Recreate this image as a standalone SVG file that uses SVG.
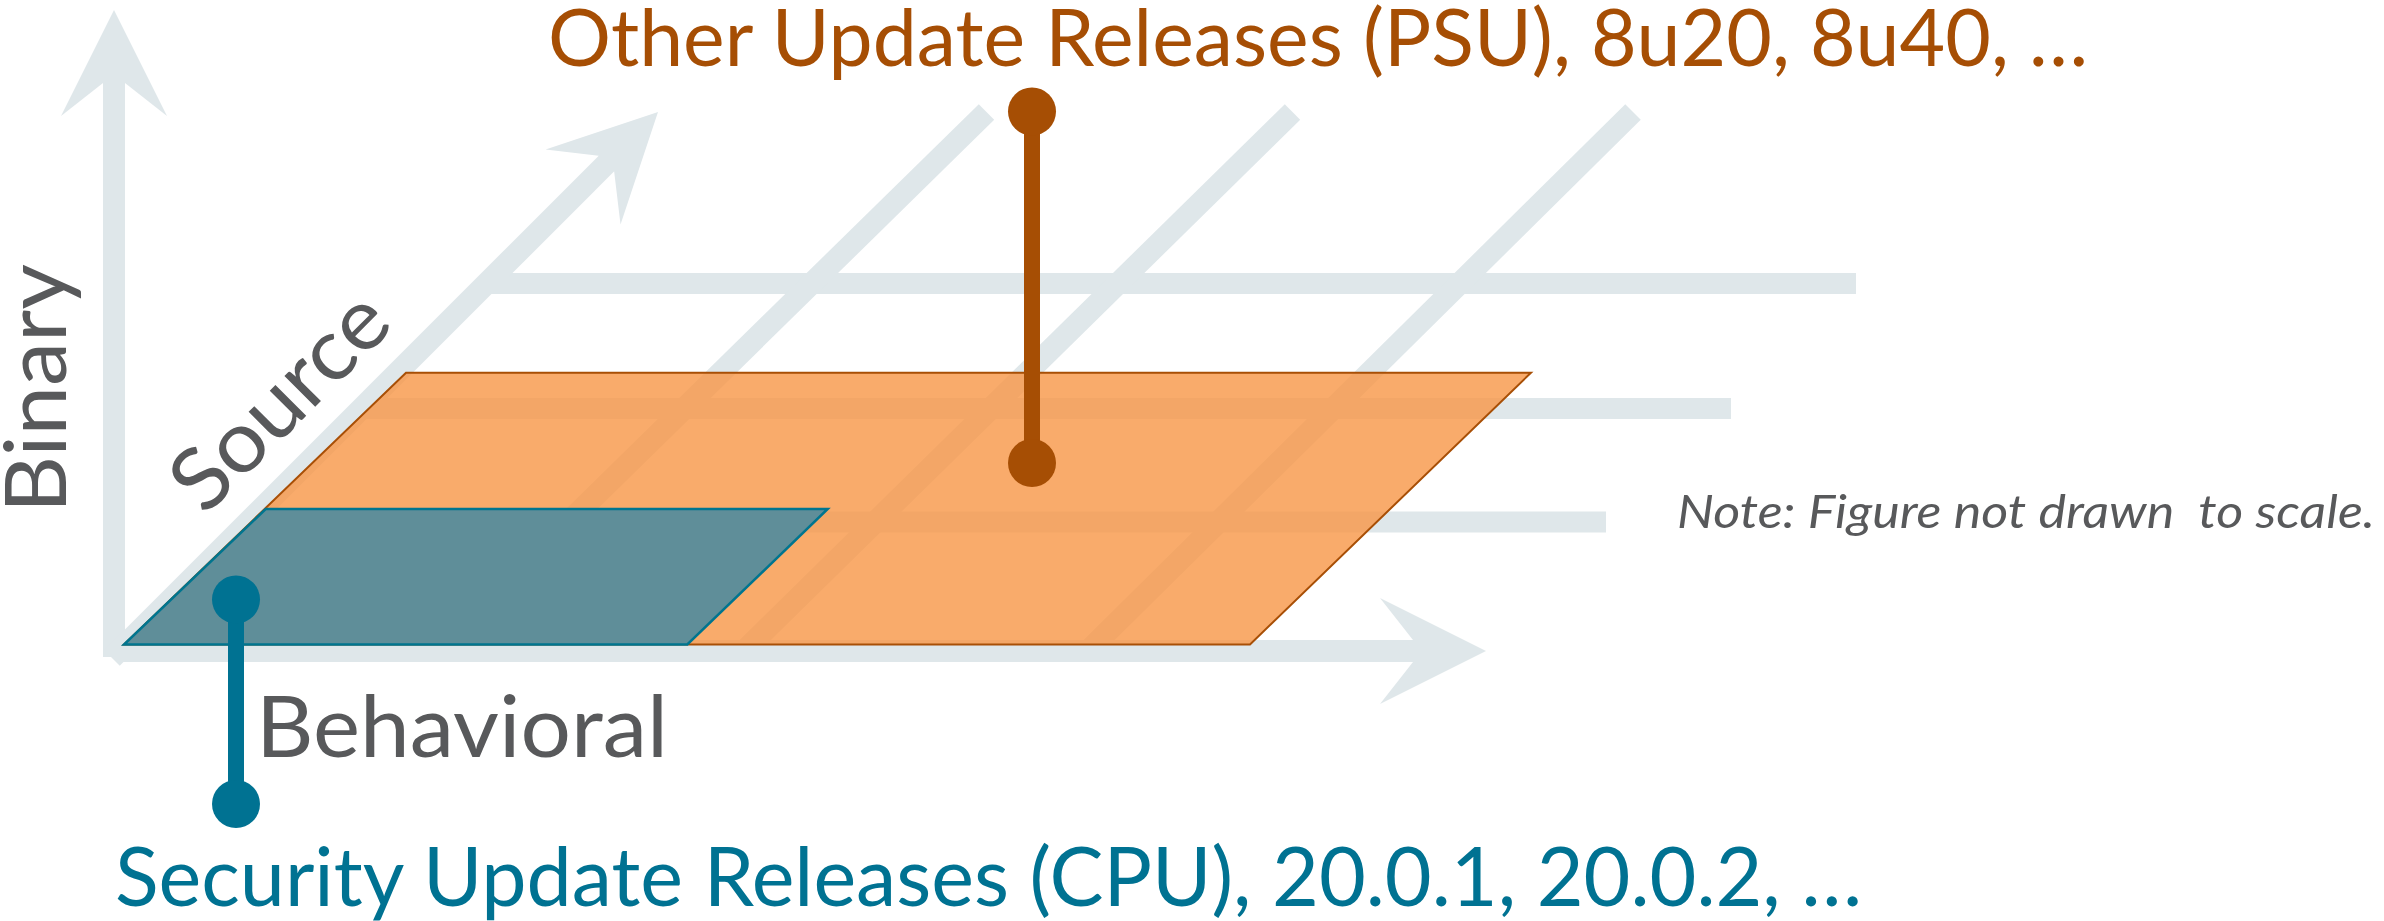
<svg xmlns="http://www.w3.org/2000/svg" xmlns:xlink="http://www.w3.org/1999/xlink" width="2384" height="921" viewBox="0 0 2384 921">
<defs>
<style>
.grid{stroke:#DFE7EA;stroke-width:22;fill:none;stroke-linecap:butt}
.hgrid{stroke:#DFE7EA;stroke-width:21;fill:none}
.head{fill:#DFE7EA}
.lbl{font-family:Lato,"Liberation Sans",sans-serif;fill:#58595B}
.psu{fill:#F79646;fill-opacity:0.8;stroke:#A84F06;stroke-width:2;stroke-linejoin:miter}
.cpu{fill:#5F8E99;stroke:#00758F;stroke-width:2.5}
.pinO{stroke:#A64E04;stroke-width:16;fill:none}
.pinOc{fill:#A64E04}
.pinT{stroke:#007292;stroke-width:16;fill:none}
.pinTc{fill:#007292}
</style>
<path id="arrowHead" d="M0,0 L53,106 L11,73 L-11,73 L-53,106 Z"/>
</defs>
<rect width="2384" height="921" fill="#FFFFFF"/>
<g id="connectors">
<g id="grid-lines">
<line class="hgrid" x1="484" y1="283.5" x2="1856" y2="283.5"/>
<line class="hgrid" x1="360" y1="408.5" x2="1731" y2="408.5"/>
<line class="hgrid" x1="246" y1="522" x2="1606" y2="522"/>
<line class="grid" x1="986.5" y1="112" x2="437" y2="651"/>
<line class="grid" x1="1292.5" y1="112" x2="744" y2="651"/>
<line class="grid" x1="1633" y1="112" x2="1088" y2="651"/>
</g>
<g id="axes">
<line class="grid" x1="114" y1="82" x2="114" y2="657"/>
<use xlink:href="#arrowHead" class="head" transform="translate(114,10)"/>
<line class="grid" x1="118" y1="651" x2="1413" y2="651"/>
<use xlink:href="#arrowHead" class="head" transform="translate(1486,651) rotate(90)"/>
<line class="grid" x1="112" y1="658" x2="607" y2="163"/>
<use xlink:href="#arrowHead" class="head" transform="translate(658,112) rotate(45)"/>
</g>
</g>
<g id="psu-region">
<polygon class="psu" points="406,372.7 1531,372.7 1250,644.5 124,644.5"/>
</g>
<g id="cpu-region">
<polygon class="cpu" points="265.7,509 827.7,509 687.3,644.5 124,644.5"/>
</g>
<g id="psu-pin">
<line class="pinO" x1="1032" y1="111.5" x2="1032" y2="463"/>
<circle class="pinOc" cx="1032" cy="111.5" r="24"/>
<circle class="pinOc" cx="1032" cy="463" r="24"/>
</g>
<g id="cpu-pin">
<line class="pinT" x1="236" y1="599.5" x2="236" y2="804"/>
<circle class="pinTc" cx="236" cy="599.5" r="24"/>
<circle class="pinTc" cx="236" cy="804" r="24"/>
</g>
<g id="label-psu">
<text x="548" y="66" font-family="Lato, 'Liberation Sans', sans-serif" font-size="79" fill="#A64E04" textLength="1540" lengthAdjust="spacingAndGlyphs">Other Update Releases (PSU), 8u20, 8u40, …</text>
</g>
<g id="label-cpu">
<text x="115" y="906" font-family="Lato, 'Liberation Sans', sans-serif" font-size="81" fill="#007292" textLength="1747" lengthAdjust="spacingAndGlyphs">Security Update Releases (CPU), 20.0.1, 20.0.2, …</text>
</g>
<g id="label-behavioral">
<text class="lbl" x="256" y="757" font-size="86" textLength="412" lengthAdjust="spacingAndGlyphs">Behavioral</text>
</g>
<g id="label-binary">
<text class="lbl" transform="translate(66,513) rotate(-90)" x="0" y="0" font-size="86" textLength="249" lengthAdjust="spacingAndGlyphs">Binary</text>
</g>
<g id="label-source">
<text class="lbl" transform="translate(205,517) rotate(-45)" x="0" y="0" font-size="86" textLength="270" lengthAdjust="spacingAndGlyphs">Source</text>
</g>
<g id="label-note">
<text class="lbl" x="1677" y="528" font-size="46" font-style="italic" style="white-space:pre" textLength="698" lengthAdjust="spacingAndGlyphs">Note: Figure not drawn  to scale.</text>
</g>
</svg>
